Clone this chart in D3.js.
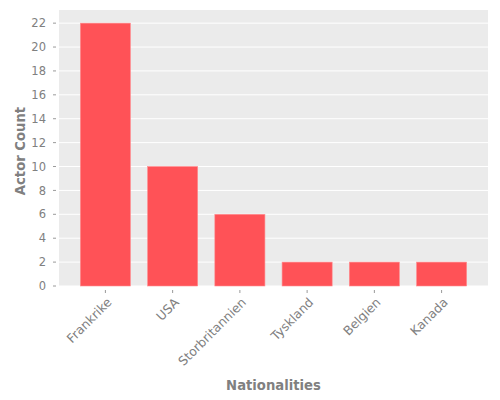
<!DOCTYPE html>
<html><head><meta charset="utf-8">
<script src="https://cdn.jsdelivr.net/npm/d3@7"></script>
<style>body{margin:0;background:#fff}svg{display:block}</style>
</head><body>
<script>
const categories = ["Frankrike","USA","Storbritannien","Tyskland","Belgien","Kanada"];
const counts = [22,10,6,2,2,2];
const yTicks = [0,2,4,6,8,10,12,14,16,18,20,22];

const W=500,H=400, L=59, R=488, T=10, B=286;
const svg=d3.select("body").append("svg").attr("width",W).attr("height",H);
const x=d3.scaleLinear().domain([-0.69,categories.length-1+0.69]).range([L,R]);
const y=d3.scaleLinear().domain([0,23.1]).range([B,T]);
const font="DejaVu Sans";
svg.append("rect").attr("x",L).attr("y",T).attr("width",R-L).attr("height",B-T).attr("fill","#EBEBEB");
svg.selectAll(".g").data(yTicks).enter().append("line")
  .attr("x1",L).attr("x2",R).attr("y1",d=>y(d)).attr("y2",d=>y(d))
  .attr("stroke","#fff").attr("stroke-width",1);
const bw=0.745;
svg.selectAll(".bar").data(counts).enter().append("rect")
  .attr("x",(d,i)=>x(i-bw/2)).attr("width",x(bw)-x(0))
  .attr("y",d=>y(d)).attr("height",d=>y(0)-y(d))
  .attr("fill","#FF5257").attr("stroke","#FF8E90").attr("stroke-width",0.6);
// y axis ticks
const ya=svg.append("g");
yTicks.forEach(t=>{
  ya.append("line").attr("x1",L-6).attr("x2",L-3).attr("y1",y(t)).attr("y2",y(t)).attr("stroke","#9a9a9a");
  ya.append("text").attr("x",L-13).attr("y",y(t)).attr("dy","0.36em").attr("text-anchor","end")
    .attr("font-family",font).attr("font-size",11.5).attr("fill","#808080").text(t);
});
// x axis ticks
categories.forEach((c,i)=>{
  const cx=x(i);
  svg.append("line").attr("x1",cx).attr("x2",cx).attr("y1",B+4).attr("y2",B+7).attr("stroke","#9a9a9a");
  svg.append("text").attr("transform",`translate(${cx+4},${B+14}) rotate(-45)`)
    .attr("text-anchor","end").attr("dy","0.35em")
    .attr("font-family",font).attr("font-size",12.5).attr("fill","#808080").text(c);
});
svg.append("text").attr("x",(L+R)/2).attr("y",390).attr("text-anchor","middle")
  .attr("font-family",font).attr("font-size",13.2).attr("font-weight","bold").attr("fill","#808080").text("Nationalities");
svg.append("text").attr("transform",`translate(25,${(T+B)/2+3}) rotate(-90)`).attr("text-anchor","middle")
  .attr("font-family",font).attr("font-size",13.2).attr("font-weight","bold").attr("fill","#808080").text("Actor Count");
</script>
</body></html>
